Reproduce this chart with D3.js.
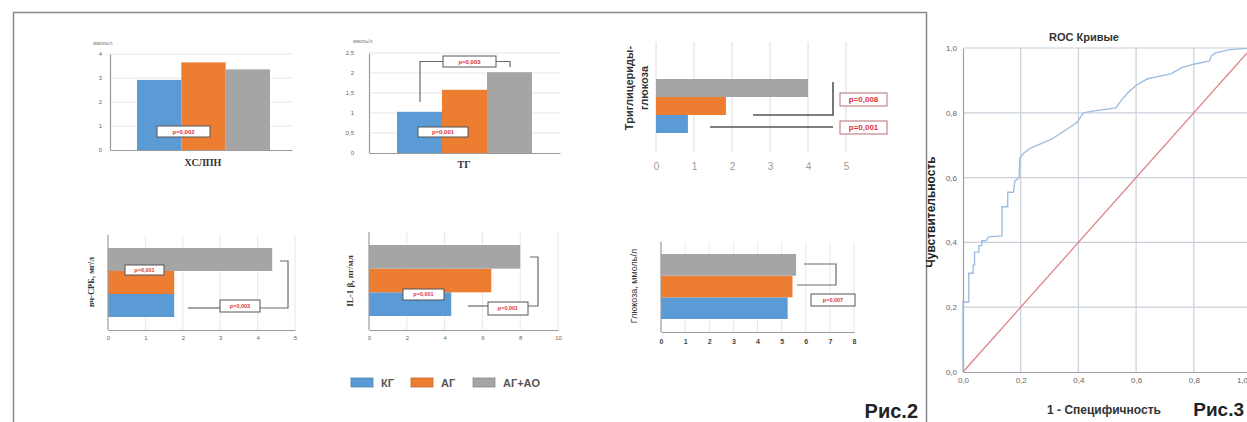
<!DOCTYPE html>
<html><head><meta charset="utf-8">
<script src="https://cdn.jsdelivr.net/npm/d3@7"></script>
<style>body{margin:0;background:#fff}svg{display:block}</style>
</head><body><svg id="c" width="1247" height="422"></svg>
<script>
// ---------- DATA ----------
const series = ["КГ", "АГ", "АГ+АО"];
const seriesColors = ["#5b9bd5", "#ed7d31", "#a5a5a5"];

const hdlValues = [2.92, 3.65, 3.36];
const tgValues = [1.03, 1.58, 2.02];
const tygValues = [0.84, 1.84, 4.0];
const crpValues = [1.77, 1.77, 4.39];
const il1Values = [4.35, 6.47, 8.0];
const glucoseValues = [5.25, 5.45, 5.6];

const hdlTicks = [0, 1, 2, 3, 4];
const tgTicks = [0, 0.5, 1, 1.5, 2, 2.5];
const tygTicks = [0, 1, 2, 3, 4, 5];
const crpTicks = [0, 1, 2, 3, 4, 5];
const il1Ticks = [0, 2, 4, 6, 8, 10];
const glucoseTicks = [0, 1, 2, 3, 4, 5, 6, 7, 8];

const rocFpr = [0, 0, 0.02, 0.02, 0.035, 0.035, 0.04, 0.04, 0.055, 0.055, 0.065, 0.065, 0.08, 0.088, 0.135, 0.135, 0.155, 0.155, 0.175, 0.18, 0.195, 0.197, 0.21, 0.233, 0.31, 0.395, 0.417, 0.45, 0.53, 0.55, 0.57, 0.60, 0.64, 0.72, 0.76, 0.80, 0.855, 0.86, 0.875, 0.925, 1.0];
const rocTpr = [0, 0.216, 0.216, 0.305, 0.305, 0.33, 0.33, 0.37, 0.37, 0.39, 0.39, 0.405, 0.405, 0.417, 0.42, 0.51, 0.51, 0.555, 0.555, 0.59, 0.60, 0.66, 0.675, 0.69, 0.72, 0.77, 0.80, 0.805, 0.815, 0.84, 0.86, 0.885, 0.905, 0.92, 0.94, 0.95, 0.96, 0.975, 0.985, 0.995, 1.0];
const rocRefX = [0, 1];
const rocRefY = [0, 1];
const rocTicks = [0, 0.2, 0.4, 0.6, 0.8, 1.0];

// ---------- HELPERS ----------
const svg = d3.select("#c");
svg.append("rect").attr("width", 1247).attr("height", 422).attr("fill", "#fff");
const comma = d => String(d).replace(".", ",");
const comma1 = d => d3.format(".1f")(d).replace(".", ",");
const SANS = "Liberation Sans, Arial, sans-serif";
const SERIF = "Liberation Serif, Times New Roman, serif";

// frame of figure 2
svg.append("path").attr("d", "M13.5,424 L13.5,12.5 L926.5,12.5 L926.5,424")
  .attr("fill", "none").attr("stroke", "#8a8a8a").attr("stroke-width", 1.5);

function pBox(g, b, txt, fs, stroke) {
  g.append("rect").attr("x", b[0]).attr("y", b[1]).attr("width", b[2] - b[0]).attr("height", b[3] - b[1])
    .attr("fill", "#fff").attr("stroke", stroke || "#555").attr("stroke-width", 1);
  g.append("text").attr("x", (b[0] + b[2]) / 2).attr("y", (b[1] + b[3]) / 2).attr("dy", "0.35em")
    .attr("text-anchor", "middle").attr("font-family", SANS).attr("font-size", fs).attr("font-weight", "bold")
    .attr("fill", "#e0323c").text(txt);
}
function polyline(g, pts, color, w) {
  g.append("path").attr("d", d3.line()(pts)).attr("fill", "none")
    .attr("stroke", color || "#6a6a6a").attr("stroke-width", w || 1.2);
}

// ---------- VERTICAL COLUMN CHARTS ----------
function vChart(cfg) {
  const g = svg.append("g");
  const y = d3.scaleLinear().domain([0, cfg.max]).range([cfg.bottom, cfg.top]);
  const xb = d3.scaleBand().domain(series).range([cfg.g0, cfg.g1]).padding(0);
  g.selectAll(".gl").data(cfg.ticks.filter(t => t > 0)).join("line")
    .attr("x1", cfg.left).attr("x2", cfg.right).attr("y1", d => y(d)).attr("y2", d => y(d))
    .attr("stroke", "#e6e6e6").attr("stroke-width", 1);
  g.selectAll(".bar").data(cfg.values).join("rect")
    .attr("x", (d, i) => xb(series[i])).attr("width", xb.bandwidth())
    .attr("y", d => y(d)).attr("height", d => y(0) - y(d))
    .attr("fill", (d, i) => seriesColors[i]);
  const ax = g.append("g").attr("transform", `translate(${cfg.left},0)`)
    .call(d3.axisLeft(y).tickValues(cfg.ticks).tickSize(0).tickPadding(cfg.pad).tickFormat(comma));
  ax.select(".domain").attr("stroke", "#9a9a9a").attr("stroke-width", 1.2);
  ax.selectAll("text").attr("font-family", SANS).attr("font-size", 6).attr("fill", "#666");
  const bx = g.append("g").attr("transform", `translate(0,${cfg.bottom})`)
    .call(d3.axisBottom(d3.scaleLinear().range([cfg.left, cfg.right])).ticks(0).tickSize(0));
  bx.select(".domain").attr("stroke", "#9a9a9a").attr("stroke-width", 1.2);
  g.append("text").attr("x", cfg.unitX).attr("y", cfg.unitY).attr("font-family", SANS)
    .attr("font-size", 5).attr("fill", "#777").text("ммоль/л");
  g.append("text").attr("x", cfg.titleX).attr("y", cfg.titleY).attr("text-anchor", "middle")
    .attr("font-family", SERIF).attr("font-weight", "bold").attr("font-size", 10).attr("fill", "#333").text(cfg.title);
  return g;
}

const c1 = vChart({ values: hdlValues, ticks: hdlTicks, max: 4, left: 110, right: 292, top: 54, bottom: 150,
  g0: 137, g1: 270, pad: 8, unitX: 93, unitY: 45, title: "ХСЛПН", titleX: 203, titleY: 166 });
pBox(c1, [157, 126, 210, 137], "p=0,002", 6);

const c2 = vChart({ values: tgValues, ticks: tgTicks, max: 2.5, left: 369, right: 560, top: 53, bottom: 153,
  g0: 397, g1: 532, pad: 15, unitX: 353, unitY: 43, title: "ТГ", titleX: 464, titleY: 168 });
pBox(c2, [418, 127, 468, 137], "p=0,001", 6);
polyline(c2, [[420, 102], [420, 61.5], [443, 61.5]]);
polyline(c2, [[496, 61.5], [510, 61.5], [510, 67]]);
pBox(c2, [443, 56, 496, 67], "p=0,003", 6);

// ---------- HORIZONTAL BAR CHARTS ----------
function hChart(cfg) {
  const g = svg.append("g");
  const x = d3.scaleLinear().domain([0, cfg.max]).range([cfg.left, cfg.right]);
  const yb = d3.scaleBand().domain(series.slice().reverse()).range([cfg.b0, cfg.b1]).padding(0);
  g.selectAll(".gl").data(cfg.ticks.filter(t => cfg.gridZero || t > 0)).join("line")
    .attr("x1", d => x(d)).attr("x2", d => x(d)).attr("y1", cfg.top).attr("y2", cfg.bottom)
    .attr("stroke", cfg.gridColor || "#e8e8e8").attr("stroke-width", 1);
  g.selectAll(".bar").data(cfg.values).join("rect")
    .attr("y", (d, i) => yb(series[i])).attr("height", yb.bandwidth())
    .attr("x", x(0)).attr("width", d => x(d) - x(0))
    .attr("fill", (d, i) => seriesColors[i]);
  const ax = g.append("g").attr("transform", `translate(0,${cfg.bottom})`)
    .call(d3.axisBottom(x).tickValues(cfg.ticks).tickSize(0).tickPadding(cfg.pad).tickFormat(comma));
  ax.selectAll("text").attr("font-family", SANS).attr("font-size", cfg.tickFs).attr("fill", cfg.tickColor)
    .attr("font-weight", cfg.tickWeight || "normal");
  if (cfg.axes) {
    ax.select(".domain").attr("stroke", "#9a9a9a").attr("stroke-width", 1.2);
    g.append("line").attr("x1", cfg.left).attr("x2", cfg.left).attr("y1", cfg.top).attr("y2", cfg.bottom)
      .attr("stroke", "#9a9a9a").attr("stroke-width", 1.2);
  } else {
    ax.select(".domain").remove();
  }
  const lab = g.append("text").attr("transform", `translate(${cfg.labX},${cfg.labY}) rotate(-90)`)
    .attr("text-anchor", "middle").attr("font-family", cfg.labFont).attr("font-size", cfg.labFs)
    .attr("font-weight", cfg.labWeight).attr("fill", "#333");
  cfg.label.forEach((t, i) => lab.append("tspan").attr("x", 0).attr("dy", i === 0 ? 0 : cfg.labLine).text(t));
  return g;
}

const c3 = hChart({ values: tygValues, ticks: tygTicks, max: 5, left: 656, right: 846, top: 42, bottom: 152,
  b0: 79, b1: 133, pad: 11, tickFs: 10, tickColor: "#9a9a9a", gridZero: true, gridColor: "#dcdcdc", axes: false,
  label: ["Триглицериды-", "глюкоза"], labX: 633, labY: 88, labFs: 11, labFont: SANS, labWeight: "bold", labLine: 15 });
polyline(c3, [[753, 115], [833, 115], [833, 82]], "#555", 1.6);
polyline(c3, [[710, 127], [833, 127]], "#555", 1.6);
pBox(c3, [840, 93, 887, 106], "p=0,008", 8, "#b07070");
pBox(c3, [840, 121, 887, 134], "p=0,001", 8, "#b07070");

const c4 = hChart({ values: crpValues, ticks: crpTicks, max: 5, left: 108, right: 295, top: 235, bottom: 330,
  b0: 248, b1: 317, pad: 6, tickFs: 6, tickColor: "#666", axes: true,
  label: ["вч-СРБ, мг/л"], labX: 94, labY: 282, labFs: 8.5, labFont: SERIF, labWeight: "bold", labLine: 0 });
pBox(c4, [125, 265, 164, 275], "p=0,001", 5.5);
polyline(c4, [[188, 308], [220, 308]]);
polyline(c4, [[260, 308], [288, 308], [288, 261], [280, 261]]);
pBox(c4, [220, 300, 260, 312], "p=0,003", 5.5);

const c5 = hChart({ values: il1Values, ticks: il1Ticks, max: 10, left: 369, right: 558, top: 232, bottom: 330,
  b0: 245, b1: 316, pad: 6, tickFs: 6, tickColor: "#666", axes: true,
  label: ["IL-1 β, пг/мл"], labX: 353, labY: 281, labFs: 9, labFont: SERIF, labWeight: "bold", labLine: 0 });
pBox(c5, [403, 289, 444, 300], "p=0,001", 5.5);
polyline(c5, [[468, 306], [488, 306]]);
polyline(c5, [[528, 306], [538, 306], [538, 257], [530, 257]]);
pBox(c5, [488, 302, 528, 315], "p=0,001", 5.5);

const c6 = hChart({ values: glucoseValues, ticks: glucoseTicks, max: 8, left: 661, right: 854, top: 242, bottom: 332,
  b0: 254, b1: 319, pad: 7, tickFs: 7, tickColor: "#444", tickWeight: "bold", axes: true,
  label: ["Глюкоза, ммоль/л"], labX: 637, labY: 286, labFs: 9, labFont: SANS, labWeight: "normal", labLine: 0 });
polyline(c6, [[804, 264], [836, 264], [836, 285], [797, 285]]);
pBox(c6, [811, 294, 855, 306], "p=0,007", 5.5);

// ---------- LEGEND ----------
const lg = svg.append("g");
const legX = d3.scaleOrdinal().domain(series).range([351, 411, 473]);
series.forEach((s, i) => {
  lg.append("rect").attr("x", legX(s)).attr("y", 378).attr("width", 22).attr("height", 9)
    .attr("fill", seriesColors[i]).attr("stroke", d3.color(seriesColors[i]).darker(0.5)).attr("stroke-width", 0.8);
  lg.append("text").attr("x", legX(s) + 30).attr("y", 387).attr("font-family", SANS).attr("font-weight", "bold")
    .attr("font-size", 11).attr("fill", "#555").text(s);
});
svg.append("text").attr("x", 918).attr("y", 418).attr("text-anchor", "end").attr("font-family", SANS)
  .attr("font-weight", "bold").attr("font-size", 20).attr("fill", "#222").text("Рис.2");

// ---------- ROC ----------
const rg = svg.append("g");
const rx = d3.scaleLinear().domain([0, 1]).range([963, 1251.5]);
const ry = d3.scaleLinear().domain([0, 1]).range([372, 48]);
rg.selectAll(".vg").data(rocTicks.filter(t => t > 0)).join("line")
  .attr("x1", d => rx(d)).attr("x2", d => rx(d)).attr("y1", ry(0)).attr("y2", ry(1))
  .attr("stroke", "#c9d0da").attr("stroke-width", 1.2);
rg.selectAll(".hg").data(rocTicks.filter(t => t > 0)).join("line")
  .attr("x1", rx(0)).attr("x2", rx(1)).attr("y1", d => ry(d)).attr("y2", d => ry(d))
  .attr("stroke", "#c9d0da").attr("stroke-width", 1.2);
const rax = rg.append("g").attr("transform", `translate(0,${ry(0)})`)
  .call(d3.axisBottom(rx).tickValues(rocTicks).tickSize(0).tickPadding(5).tickFormat(comma1));
const ray = rg.append("g").attr("transform", `translate(${rx(0)},0)`)
  .call(d3.axisLeft(ry).tickValues(rocTicks).tickSize(0).tickPadding(6).tickFormat(comma1));
[rax, ray].forEach(a => {
  a.select(".domain").attr("stroke", "#9aa0aa").attr("stroke-width", 1.2);
  a.selectAll("text").attr("font-family", SANS).attr("font-size", 8).attr("fill", "#666");
});
rax.selectAll(".tick").filter(d => d === 1).select("text").attr("text-anchor", "end").attr("dx", -4);
rg.append("path").datum(rocRefX.map((d, i) => [d, rocRefY[i]]))
  .attr("d", d3.line().x(d => rx(d[0])).y(d => ry(d[1])))
  .attr("fill", "none").attr("stroke", "#e0848a").attr("stroke-width", 1.3);
rg.append("path").datum(rocFpr.map((d, i) => [d, rocTpr[i]]))
  .attr("d", d3.line().x(d => rx(d[0])).y(d => ry(d[1])))
  .attr("fill", "none").attr("stroke", "#9ebde0").attr("stroke-width", 1.4);
rg.append("text").attr("x", 1084).attr("y", 41).attr("text-anchor", "middle").attr("font-family", SANS)
  .attr("font-size", 11).attr("font-weight", "bold").attr("fill", "#333").text("ROC Кривые");
rg.append("text").attr("x", 1104).attr("y", 414).attr("text-anchor", "middle").attr("font-family", SANS)
  .attr("font-size", 12).attr("font-weight", "bold").attr("fill", "#333").text("1 - Специфичность");
rg.append("text").attr("transform", "translate(935,212) rotate(-90)").attr("text-anchor", "middle")
  .attr("font-family", SANS).attr("font-size", 12).attr("font-weight", "bold").attr("fill", "#222").text("Чувствительность");
svg.append("text").attr("x", 1244).attr("y", 416).attr("text-anchor", "end").attr("font-family", SANS)
  .attr("font-weight", "bold").attr("font-size", 19).attr("fill", "#222").text("Рис.3");
</script></body></html>
